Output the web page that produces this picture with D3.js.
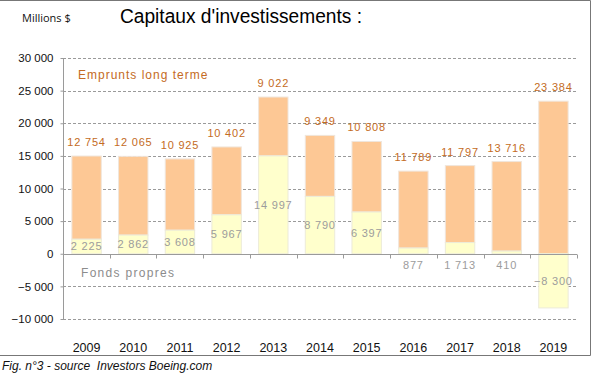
<!DOCTYPE html>
<html>
<head>
<meta charset="utf-8">
<script src="https://cdn.jsdelivr.net/npm/d3@7"></script>
<style>
  body { margin: 0; background: #fff; }
  svg { display: block; }
</style>
</head>
<body>
<div id="chart"></div>
<script>
// values in millions $
const years = ["2009", "2010", "2011", "2012", "2013", "2014", "2015", "2016", "2017", "2018", "2019"];
const fondsPropres = [2225, 2862, 3608, 5967, 14997, 8790, 6397, 877, 1713, 410, -8300];
const emprunts = [12754, 12065, 10925, 10402, 9022, 9349, 10808, 11789, 11797, 13716, 23384];
const yTicks = [30000, 25000, 20000, 15000, 10000, 5000, 0, -5000, -10000];

const width = 592, height = 377;
const margin = {top: 58, right: 15, bottom: 61, left: 63};

const fmt = v => d3.format(",")(v).replace(/,/g, " ");

const svg = d3.select("#chart").append("svg")
    .attr("width", width)
    .attr("height", height);

// frame
svg.append("path")
    .attr("d", `M0,0.5H590.5V355.5H0`)
    .attr("fill", "none")
    .attr("stroke", "#777")
    .attr("stroke-width", 1);

const x = d3.scaleBand()
    .domain(years)
    .range([margin.left, width - margin.right])
    .paddingInner(0.37)
    .paddingOuter(0.19);

const y = d3.scaleLinear()
    .domain([-10000, 30000])
    .range([height - margin.bottom + 3, margin.top]);

// gridlines
svg.append("g")
    .selectAll("line")
    .data(yTicks.filter(d => d !== 0))
    .join("line")
    .attr("x1", margin.left)
    .attr("x2", width - margin.right)
    .attr("y1", d => Math.round(y(d)) + 0.5)
    .attr("y2", d => Math.round(y(d)) + 0.5)
    .attr("stroke", "#9a9a9a")
    .attr("stroke-dasharray", "3,2");

// stacked bars: equity from 0, debt on top of positive equity
const data = years.map((yr, i) => {
    const fp = fondsPropres[i];
    const base = Math.max(fp, 0);
    return {year: yr, fp: fp, em: emprunts[i], base: base, top: base + emprunts[i]};
});

const bars = svg.append("g");
bars.selectAll("rect.em")
    .data(data)
    .join("rect")
    .attr("class", "em")
    .attr("x", d => x(d.year))
    .attr("width", x.bandwidth())
    .attr("y", d => y(d.top))
    .attr("height", d => y(d.base) - y(d.top))
    .attr("fill", "#fdc895")
    .attr("stroke", "#f0e6dc")
    .attr("stroke-width", 1);

bars.selectAll("rect.fp")
    .data(data)
    .join("rect")
    .attr("class", "fp")
    .attr("x", d => x(d.year))
    .attr("width", x.bandwidth())
    .attr("y", d => y(Math.max(d.fp, 0)))
    .attr("height", d => Math.abs(y(d.fp) - y(0)))
    .attr("fill", "#ffffcc")
    .attr("stroke", "#ecebd8")
    .attr("stroke-width", 1);

// y axis
const yAxis = svg.append("g")
    .attr("transform", `translate(${margin.left + 0.5},0)`)
    .call(d3.axisLeft(y).tickValues(yTicks).tickSize(3).tickPadding(7).tickFormat(fmt));
yAxis.select(".domain").attr("stroke", "#9a9a9a").attr("d", `M0,${y(30000)}V${y(-10000)}`);
yAxis.selectAll(".tick line").attr("stroke", "#9a9a9a");
yAxis.selectAll("text")
    .attr("font-family", "'Liberation Sans', Arial, sans-serif")
    .attr("font-size", 11.5)
    .attr("fill", "#111");

// x axis at zero with ticks between categories
const y0 = Math.round(y(0)) + 0.5;
svg.append("line")
    .attr("x1", margin.left)
    .attr("x2", width - margin.right)
    .attr("y1", y0).attr("y2", y0)
    .attr("stroke", "#9a9a9a");
svg.append("g")
    .selectAll("line")
    .data(years.concat(["end"]))
    .join("line")
    .attr("x1", (d, i) => Math.round(margin.left + i * (width - margin.right - margin.left) / years.length) + 0.5)
    .attr("x2", (d, i) => Math.round(margin.left + i * (width - margin.right - margin.left) / years.length) + 0.5)
    .attr("y1", y0)
    .attr("y2", y0 + 4)
    .attr("stroke", "#9a9a9a");

// year labels
svg.append("g")
    .selectAll("text")
    .data(years)
    .join("text")
    .attr("x", d => x(d) + x.bandwidth() / 2)
    .attr("y", height - 25)
    .attr("text-anchor", "middle")
    .attr("font-family", "'Liberation Sans', Arial, sans-serif")
    .attr("font-size", 12.5)
    .attr("fill", "#111")
    .text(d => d);

// debt labels (orange) above bars
svg.append("g")
    .selectAll("text")
    .data(data)
    .join("text")
    .attr("x", d => x(d.year) + x.bandwidth() / 2)
    .attr("y", d => y(d.top) - 10)
    .attr("text-anchor", "middle")
    .attr("font-family", "'Liberation Sans', Arial, sans-serif")
    .attr("font-size", 11)
    .attr("letter-spacing", 0.8)
    .attr("fill", "#c46b24")
    .text(d => fmt(d.em));

// equity labels (gray)
svg.append("g")
    .selectAll("text")
    .data(data)
    .join("text")
    .attr("x", d => x(d.year) + x.bandwidth() / 2)
    .attr("y", d => Math.abs(d.fp) < 2000 ? y(0) + 15 : y(d.fp / 2) + 4)
    .attr("text-anchor", "middle")
    .attr("font-family", "'Liberation Sans', Arial, sans-serif")
    .attr("font-size", 11)
    .attr("letter-spacing", 0.8)
    .attr("fill", "#9c9c9c")
    .text(d => fmt(d.fp));

// series names
svg.append("text")
    .attr("x", 78).attr("y", 79)
    .attr("font-family", "'Liberation Sans', Arial, sans-serif")
    .attr("font-size", 12)
    .attr("letter-spacing", 1)
    .attr("fill", "#c46b24")
    .text("Emprunts long terme");

svg.append("text")
    .attr("x", 81).attr("y", 277)
    .attr("font-family", "'Liberation Sans', Arial, sans-serif")
    .attr("font-size", 12)
    .attr("letter-spacing", 1.3)
    .attr("fill", "#8c8c8c")
    .text("Fonds propres");

// titles
svg.append("text")
    .attr("x", 120).attr("y", 23)
    .attr("font-family", "'Liberation Sans', Arial, sans-serif")
    .attr("font-size", 20)
    .attr("textLength", 242)
    .attr("lengthAdjust", "spacingAndGlyphs")
    .attr("fill", "#000")
    .text("Capitaux d'investissements :");

svg.append("text")
    .attr("x", 22).attr("y", 22)
    .attr("font-family", "'Open Sans', 'Liberation Sans', sans-serif")
    .attr("font-size", 11)
    .attr("fill", "#111")
    .text("Millions $");

svg.append("text")
    .attr("x", 2).attr("y", 370)
    .attr("font-family", "'Liberation Sans', Arial, sans-serif")
    .attr("font-size", 12)
    .attr("font-style", "italic")
    .attr("fill", "#111")
    .style("white-space", "pre")
    .text("Fig. n°3 - source  Investors Boeing.com");
</script>
</body>
</html>
